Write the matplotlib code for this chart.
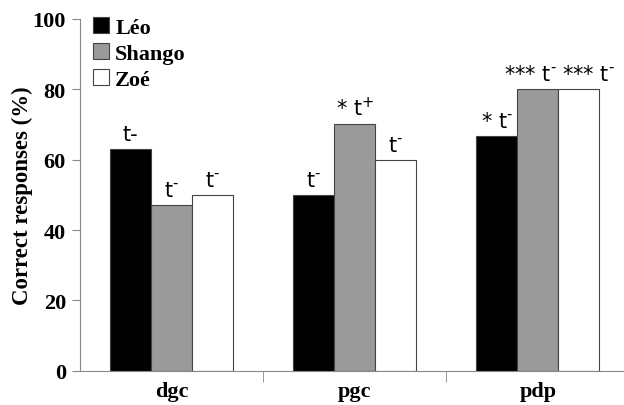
import matplotlib
matplotlib.use("Agg")
import matplotlib.pyplot as plt
import numpy as np

# ── Data ──────────────────────────────────────────────────────────────────────
conditions = ["dgc", "pgc", "pdp"]
subjects   = ["Léo", "Shango", "Zoé"]
leo    = [63, 50, 66.7]
shango = [47, 70, 80]
zoe    = [50, 60, 80]
SUP_MINUS = r"$^{\mathrm{‐}}$"
SUP_PLUS  = r"$^{\mathrm{+}}$"
notes_leo    = ["t-", "t" + SUP_MINUS, "* t" + SUP_MINUS]
notes_shango = ["t" + SUP_MINUS, "* t" + SUP_PLUS, "*** t" + SUP_MINUS]
notes_zoe    = ["t" + SUP_MINUS, "t" + SUP_MINUS, "*** t" + SUP_MINUS]

colors = ["black", "#9a9a9a", "white"]
SPINE = "#888888"
FS = 16

plt.rcParams["font.family"] = ["Liberation Serif", "DejaVu Serif"]
plt.rcParams["mathtext.fontset"] = "dejavusans"

fig = plt.figure(figsize=(6.24, 4.06), dpi=100)
ax = fig.add_axes([0.128, 0.084, 0.872, 0.867])

x = np.arange(len(conditions))
w = 0.224
# small horizontal nudges so the crowded pdp labels sit as in the original
nudge = [[0, 0, 0], [0, 0, -0.04], [0, 0, 0.05]]
series = [leo, shango, zoe]
notes = [notes_leo, notes_shango, notes_zoe]
for i, (vals, lab, col, nts) in enumerate(zip(series, subjects, colors, notes)):
    pos = x + (i - 1) * w
    ax.bar(pos, vals, width=w, color=col, edgecolor="#444444", linewidth=0.8,
           label=lab, zorder=2)
    for j, (px, v, t) in enumerate(zip(pos, vals, nts)):
        ax.text(px + nudge[i][j], v + 2.6, t, ha="center", va="baseline",
                fontsize=15, family="DejaVu Sans")

ax.set_ylim(0, 100)
ax.set_xlim(-0.5, 2.47)
ax.set_yticks([0, 20, 40, 60, 80, 100])
ax.set_xticks(x)
ax.set_xticklabels(conditions, fontweight="bold", fontsize=FS)
ax.set_xticks([0.5, 1.5], minor=True)
ax.tick_params(axis="x", which="major", length=0, pad=7)
ax.tick_params(axis="x", which="minor", length=8, color=SPINE)
ax.tick_params(axis="y", length=6, color=SPINE, labelsize=FS, pad=4)
for t in ax.get_yticklabels():
    t.set_fontweight("bold")
ax.set_ylabel("Correct responses (%)", fontweight="bold", fontsize=16.5,
              labelpad=0)

for s in ["top", "right"]:
    ax.spines[s].set_visible(False)
for s in ["left", "bottom"]:
    ax.spines[s].set_color(SPINE)

ax.legend(loc="upper left", bbox_to_anchor=(93 / 624, 1 - 18 / 406),
          bbox_transform=fig.transFigure, frameon=False,
          borderpad=0, borderaxespad=0,
          prop={"weight": "bold", "size": FS}, handlelength=0.7,
          handleheight=0.7, handletextpad=0.3, labelspacing=0.25)

fig.savefig("out.png", dpi=100)
